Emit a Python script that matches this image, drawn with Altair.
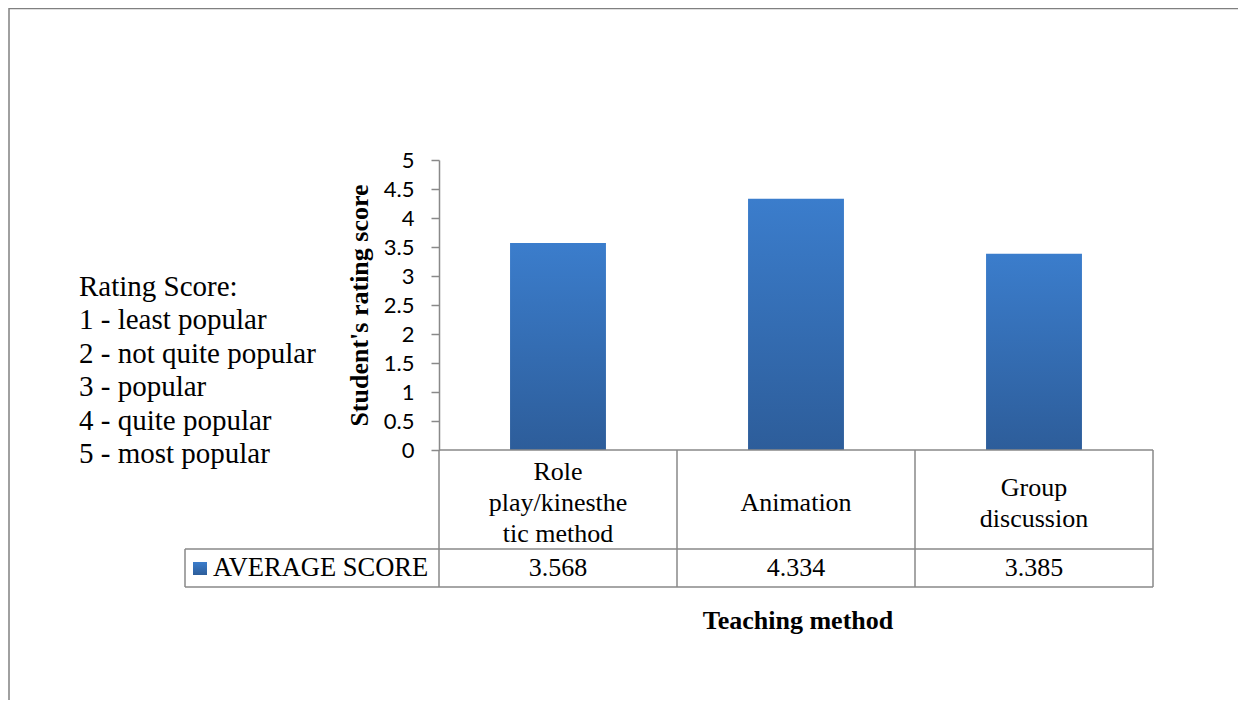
import altair as alt
import pandas as pd

methods = ["Role play/kinesthetic method", "Animation", "Group discussion"]
method_labels = ["Role\nplay/kinesthe\ntic method", "Animation", "Group\ndiscussion"]
scores = [3.568, 4.334, 3.385]
series_name = ["AVERAGE SCORE"]
y_ticks = [0, 0.5, 1, 1.5, 2, 2.5, 3, 3.5, 4, 4.5, 5]
rating_lines = ["Rating Score:", "1 - least popular", "2 - not quite popular",
                "3 - popular", "4 - quite popular", "5 - most popular"]
y_title = "Student's rating score"
x_title = ["Teaching method"]

df = pd.DataFrame({"method": methods, "score": scores})
dummy = pd.DataFrame({"d": [0]})

# one row per wrapped line of each category label
label_rows = []
for m, lab in zip(methods, method_labels):
    parts = lab.split("\n")
    for k, p in enumerate(parts):
        label_rows.append({"method": m, "line": p, "k": k, "n": len(parts)})
label_df = pd.DataFrame(label_rows)

W, H = 714, 290
SERIF = "Liberation Serif"
GRID = "#898989"

grad = alt.Gradient(
    gradient="linear", x1=0, y1=0, x2=0, y2=1,
    stops=[alt.GradientStop(color="#3B7DCC", offset=0),
           alt.GradientStop(color="#2D5D9A", offset=1)],
)

x = alt.X("method:N", sort=methods, axis=None,
          scale=alt.Scale(paddingInner=0.597, paddingOuter=0.2985))
y = alt.Y(
    "score:Q",
    scale=alt.Scale(domain=[0, 5], nice=False),
    axis=alt.Axis(
        values=y_ticks, format="~g", grid=False,
        domainColor=GRID, domainWidth=1.5, tickColor=GRID, tickWidth=1.5, tickSize=8,
        labelFont="Lato", labelFontSize=22, labelColor="black", labelPadding=17,
        title=y_title, titleFont=SERIF, titleFontSize=26, titleFontWeight="bold",
        titleColor="black", titleAngle=270, titleX=-72, titleY=145,
        titleAlign="center", titleBaseline="alphabetic",
    ),
)

bars = alt.Chart(df).mark_bar(color=grad).encode(x=x, y=y)


def hline(yv, x1, x2):
    return alt.Chart(dummy).mark_rule(color=GRID, strokeWidth=1.5).encode(
        x=alt.value(x1), x2=alt.value(x2), y=alt.value(yv))


def vline(xv, y1, y2):
    return alt.Chart(dummy).mark_rule(color=GRID, strokeWidth=1.5).encode(
        x=alt.value(xv), y=alt.value(y1), y2=alt.value(y2))


table = [
    hline(290, 0, W),
    hline(389, -254, W),
    hline(427, -254, W),
    vline(-254, 389, 427),
    vline(0, 290, 427),
    vline(238, 290, 427),
    vline(476, 290, 427),
    vline(W, 290, 427),
]

cat_text = alt.Chart(label_df).transform_calculate(
    ypos="343 + (datum.k - (datum.n - 1) / 2) * 31"
).mark_text(
    font=SERIF, fontSize=26, baseline="middle", color="black"
).encode(
    x=x,
    y=alt.Y("ypos:Q", scale=alt.Scale(domain=[H, 0], nice=False, zero=False), axis=None),
    text="line:N",
)

val_text = alt.Chart(df).mark_text(
    font=SERIF, fontSize=26, baseline="middle", color="black"
).encode(x=x, y=alt.value(408), text=alt.Text("score:Q", format=".3f"))

swatch = alt.Chart(dummy).mark_rect(color=grad).encode(
    x=alt.value(-246), x2=alt.value(-232), y=alt.value(402), y2=alt.value(415))

legend_text = alt.Chart(pd.DataFrame({"name": series_name})).mark_text(
    font=SERIF, fontSize=26.5, baseline="middle", align="left", color="black"
).encode(x=alt.value(-226), y=alt.value(408), text="name:N")

rating_text = alt.Chart(pd.DataFrame({"t": ["\n".join(rating_lines)]})).mark_text(
    font=SERIF, fontSize=29, lineBreak="\n", lineHeight=33.4, align="left",
    baseline="alphabetic", color="black"
).encode(x=alt.value(-360), y=alt.value(136), text="t:N")

xtitle = alt.Chart(pd.DataFrame({"t": x_title})).mark_text(
    font=SERIF, fontSize=26, fontWeight="bold", baseline="alphabetic", color="black"
).encode(x=alt.value(359), y=alt.value(469), text="t:N")

frame = [
    alt.Chart(dummy).mark_rule(color="#808080", strokeWidth=1.5).encode(
        x=alt.value(-430), x2=alt.value(820), y=alt.value(-151.5)),
    alt.Chart(dummy).mark_rule(color="#808080", strokeWidth=1.5).encode(
        x=alt.value(-430), y=alt.value(-152), y2=alt.value(560)),
]

chart = alt.layer(
    bars, *table, cat_text, val_text, swatch, legend_text, rating_text, xtitle, *frame
).resolve_scale(
    y="independent"
).properties(
    width=W, height=H,
    autosize=alt.AutoSizeParams(type="none"),
    padding={"left": 431, "top": 152, "right": 85, "bottom": 250},
).configure_view(strokeWidth=0)

chart.save("out.html", embed_options={"renderer": "svg", "actions": False})
